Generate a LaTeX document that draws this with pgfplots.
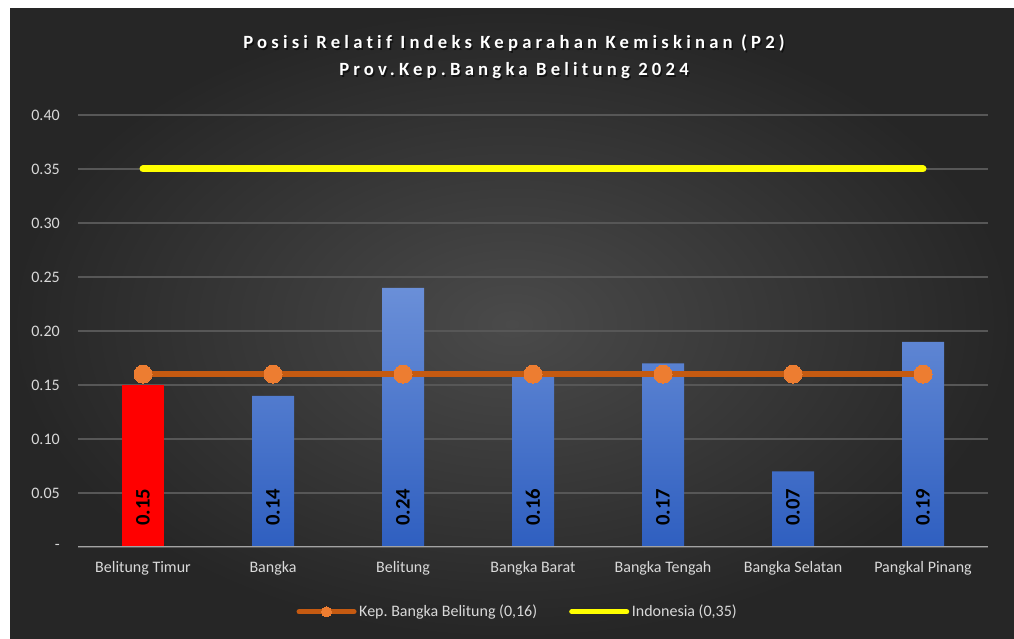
\documentclass[border=0pt]{standalone}
\usepackage{fontspec}
\setmainfont[RawFeature={-liga}]{Carlito}
\newfontfamily\titlefont[LetterSpace=22.5,RawFeature={-liga}]{Carlito}
\usepackage{pgfplots}
\pgfplotsset{compat=1.18}
\definecolor{bgin}{HTML}{4A4A4A}
\definecolor{bgout}{HTML}{262626}
\definecolor{gridc}{HTML}{575757}
\definecolor{basec}{HTML}{A3A3A3}
\definecolor{txt}{HTML}{D9D9D9}
\definecolor{barTop}{HTML}{6A8FD8}
\definecolor{barBot}{HTML}{2F5FC0}
\definecolor{oline}{HTML}{C55A11}
\definecolor{omark}{HTML}{ED7D31}
\definecolor{yline}{HTML}{FFFF00}
\frenchspacing
\begin{document}
\begin{tikzpicture}
\begin{scope}[x=0.75pt,y=0.75pt]
\useasboundingbox (0,0) rectangle (1014,639);
\fill[white] (0,0) rectangle (1014,639);
\shade[inner color=bgin, outer color=bgout] (10,0) rectangle (1014,630);
\end{scope}
\begin{axis}[
  at={(58.5pt,69pt)}, anchor=south west,
  scale only axis, width=682.5pt, height=324pt,
  xmin=-0.5, xmax=6.5, ymin=0, ymax=0.4,
  xtick={0,1,2,3,4,5,6},
  xticklabels={Belitung Timur, Bangka, Belitung, Bangka Barat, Bangka Tengah, Bangka Selatan, Pangkal Pinang},
  ytick={0,0.05,0.1,0.15,0.2,0.25,0.3,0.35,0.4},
  yticklabels={-,0.05,0.10,0.15,0.20,0.25,0.30,0.35,0.40},
  major tick length=0pt,
  axis line style={draw=none},
  ymajorgrids, grid style={gridc, line width=0.9pt},
  tick label style={font=\fontsize{12}{14}\selectfont, text=txt},
  yticklabel style={anchor=east, inner sep=0pt, xshift=-13.5pt},
  xticklabel style={anchor=base, inner sep=0pt, yshift=-19.5pt},
  legend image code/.code={\draw[mark repeat=2,mark phase=2,#1] plot coordinates {(0pt,0pt) (20.6pt,0pt) (41.25pt,0pt)};},
  legend style={at={(0.4835,-0.15)}, anchor=center, draw=none, fill=none,
    legend columns=2, font=\fontsize{12}{14}\selectfont, text=txt,
    /tikz/every even column/.append style={column sep=22pt}},
]
\addplot[ybar, bar width=31.5pt, bar shift=0pt, fill=red, draw=none, forget plot]
  coordinates {(0,0.15)};
\addplot[ybar, bar width=31.5pt, bar shift=0pt, draw=none, top color=barTop, bottom color=barBot, forget plot]
  coordinates {(1,0.14) (2,0.24) (3,0.16) (4,0.17) (5,0.07) (6,0.19)};
\draw[basec, line width=2pt] (axis cs:-0.5,0) -- (axis cs:6.5,0);
\addplot[only marks, mark=none, forget plot, point meta=explicit symbolic,
  nodes near coords,
  nodes near coords style={rotate=90, anchor=center, inner sep=0pt, text=black,
    font=\bfseries\fontsize{15.5}{17}\selectfont}]
  coordinates {(0,0.037)[0.15] (1,0.037)[0.14] (2,0.037)[0.24] (3,0.037)[0.16] (4,0.037)[0.17] (5,0.037)[0.07] (6,0.037)[0.19]};
\addplot[yline, line width=5.25pt, line cap=round, forget plot]
  coordinates {(0,0.35) (1,0.35) (2,0.35) (3,0.35) (4,0.35) (5,0.35) (6,0.35)};
\addplot[oline, line width=4.9pt, mark=*, mark size=6.75pt,
  mark options={fill=omark, draw=omark, line width=0pt}, forget plot]
  coordinates {(0,0.16) (1,0.16) (2,0.16) (3,0.16) (4,0.16) (5,0.16) (6,0.16)};
\addlegendimage{oline, line width=3.75pt, line cap=round, mark=*, mark size=3.75pt,
  mark options={fill=omark, draw=omark, line width=0pt}}
\addlegendentry{Kep. Bangka Belitung (0,16)}
\addlegendimage{yline, line width=3.75pt, line cap=round}
\addlegendentry{Indonesia (0,35)}
\end{axis}
\begin{scope}[x=0.75pt,y=0.75pt]
\foreach \yy/\tt in {590/{Posisi Relatif Indeks Keparahan Kemiskinan (P2)}, 563/{Prov.Kep.Bangka Belitung 2024}}{
  \node[anchor=base, text=black, opacity=0.55, font=\titlefont\bfseries\fontsize{14}{16}\selectfont] at (515.5,\yy-1.5) {\tt};
  \node[anchor=base, text=white, font=\titlefont\bfseries\fontsize{14}{16}\selectfont] at (514,\yy) {\tt};
}
\end{scope}
\end{tikzpicture}
\end{document}
